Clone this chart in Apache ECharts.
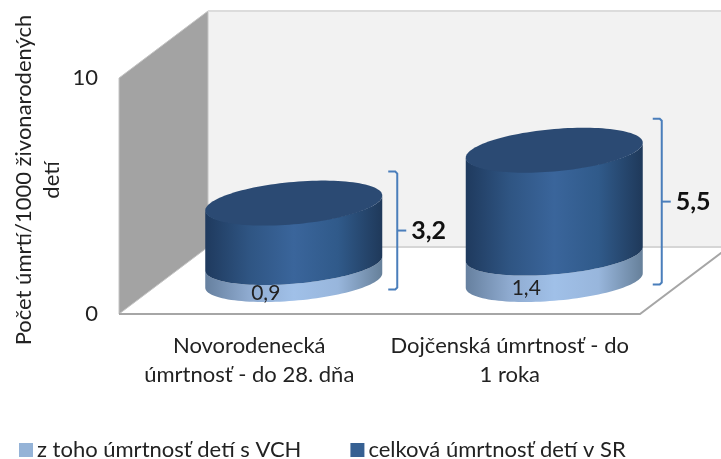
<!DOCTYPE html>
<html>
<head>
<meta charset="utf-8">
<style>
  html, body { margin: 0; padding: 0; background: #fff; }
  #chart { width: 721px; height: 459px; }
</style>
<script src="https://cdn.jsdelivr.net/npm/echarts@6/dist/echarts.min.js"></script>
</head>
<body>
<div id="chart"></div>
<script>
var categories = ['Novorodenecká\númrtnosť - do 28. dňa', 'Dojčenská úmrtnosť - do\n1 roka'];
var seriesNames = ['z toho úmrtnosť detí s VCH', 'celková úmrtnosť detí v SR'];
var vchValues = [0.9, 1.4];
var totalValues = [3.2, 5.5];
var yTicks = [0, 10];

var FONT = 'Lato';
var DEPTH_X = 89, DEPTH_Y = 67;   // hlbka podlahy
var RX = 88.5, RY = 21.5, TILT = 19.5 * Math.PI / 180;
var bracketLayout = [{ dx: 6, below: 9 }, { dx: 10, below: 4 }];

function arc(cx, cy, from, to, n, ry) {
  var pts = [];
  var b = ry || RY;
  for (var k = 0; k <= n; k++) {
    var t = (from + (to - from) * k / n) * Math.PI / 180;
    pts.push([cx + RX * Math.cos(t), cy - b * Math.sin(t + TILT)]);
  }
  return pts;
}

function sideFill(stops) {
  return new echarts.graphic.LinearGradient(0, 0, 1, 0, stops.map(function (c, i) {
    return { offset: i / (stops.length - 1), color: c };
  }));
}

function fmt(v) {
  return String(v).replace('.', ',');
}

function project(api, idx, val) {
  var p = api.coord([idx, val]);
  return [p[0] + DEPTH_X / 2, p[1] - DEPTH_Y / 2];
}

function renderWalls(params) {
  var g = params.coordSys;
  var l = g.x, r = g.x + g.width, t = g.y, b = g.y + g.height;
  return {
    type: 'group',
    children: [
      { type: 'polygon', shape: { points: [[l + DEPTH_X, t - DEPTH_Y], [r + DEPTH_X, t - DEPTH_Y], [r + DEPTH_X, b - DEPTH_Y], [l + DEPTH_X, b - DEPTH_Y]] },
        style: { fill: '#f2f2f2' } },
      { type: 'polygon', shape: { points: [[l, t], [l + DEPTH_X, t - DEPTH_Y], [l + DEPTH_X, b - DEPTH_Y], [l, b]] },
        style: { fill: '#a3a3a3', stroke: '#c4c4c4', lineWidth: 1 } },
      { type: 'polyline', shape: { points: [[l + DEPTH_X, t - DEPTH_Y], [r + DEPTH_X, t - DEPTH_Y]] },
        style: { stroke: '#dcdcdc', lineWidth: 2, fill: null } },
      { type: 'polyline', shape: { points: [[l + DEPTH_X, b - DEPTH_Y], [r + DEPTH_X, b - DEPTH_Y]] },
        style: { stroke: '#d6d6d6', lineWidth: 2, fill: null } },
      { type: 'polyline', shape: { points: [[l, b], [r, b], [r + DEPTH_X, b - DEPTH_Y]] },
        style: { stroke: '#a6a6a6', lineWidth: 2, fill: null } }
    ]
  };
}

function renderVch(params, api) {
  var i = api.value(0);
  var low = project(api, i, api.value(1));
  var high = project(api, i, api.value(2));
  var side = arc(low[0], low[1], 180, 360, 60).concat(arc(high[0], high[1], 360, 180, 60));
  return {
    type: 'group',
    children: [
      { type: 'polygon', shape: { points: side }, style: { fill: sideFill(['#66809f', '#8fabd0', '#a0c0e8', '#98b6dc', '#66809a']) } },
      { type: 'text', x: low[0] - 28, y: (low[1] + high[1]) / 2 + 21,
        style: { text: fmt(api.value(3)), font: '21px ' + FONT, fill: '#222', align: 'center', verticalAlign: 'middle' } }
    ]
  };
}

function renderTotal(params, api) {
  var i = api.value(0);
  var low = project(api, i, api.value(1));
  var high = project(api, i, api.value(2));
  var side = arc(low[0], low[1], 180, 360, 60).concat(arc(high[0], high[1], 360, 180, 60));
  var lay = bracketLayout[i];
  var bx = high[0] + RX + lay.dx;
  var top = high[1] - 31.5;
  var bottom = project(api, i, 0)[1] + lay.below;
  var mid = (top + bottom) / 2;
  var blue = { stroke: '#4a7ebb', lineWidth: 2, fill: null };
  return {
    type: 'group',
    children: [
      { type: 'polygon', shape: { points: side }, style: { fill: sideFill(['#1f3a5e', '#2f5583', '#3a659b', '#305a8a', '#1f395a']) } },
      { type: 'polygon', shape: { points: arc(high[0], high[1], 0, 360, 120, 22.5) }, style: { fill: '#2b4a73' } },
      { type: 'polyline', shape: { points: [[bx, top], [bx + 7, top], [bx + 9, top + 2], [bx + 9, bottom - 2], [bx + 7, bottom], [bx, bottom]] }, style: blue },
      { type: 'polyline', shape: { points: [[bx + 9, mid], [bx + 18, mid]] }, style: blue },
      { type: 'text', x: bx + 23, y: mid,
        style: { text: fmt(api.value(3)), font: 'bold 25px ' + FONT, fill: '#111', align: 'left', verticalAlign: 'middle' } }
    ]
  };
}

var option = {
  backgroundColor: '#fff',
  animation: false,
  textStyle: { fontFamily: FONT },
  grid: { left: 119, right: 81, top: 78, bottom: 145 },
  legend: {
    left: 14, top: 434, itemWidth: 14, itemHeight: 14, itemGap: 49, icon: 'rect',
    data: seriesNames,
    textStyle: { fontFamily: FONT, fontSize: 22, color: '#222', padding: [0, 0, 0, -1] }
  },
  xAxis: {
    type: 'category',
    data: categories,
    axisLine: { show: false },
    axisTick: { show: false },
    axisLabel: { margin: 17, fontFamily: FONT, fontSize: 22, lineHeight: 29, color: '#222', interval: 0 }
  },
  yAxis: [
    {
      type: 'value', min: yTicks[0], max: yTicks[1], interval: yTicks[1] - yTicks[0],
      axisLine: { show: false }, axisTick: { show: false }, splitLine: { show: false },
      axisLabel: { margin: 21, fontFamily: FONT, fontSize: 22, color: '#222', padding: [8, 0, 0, 0] }
    },
    // valce su v hlbke, preto ina mierka
    { type: 'value', min: 0, max: 12.5, show: false }
  ],
  graphic: [{
    type: 'text', x: 10, y: 180, rotation: Math.PI / 2, z: 10,
    style: {
      text: 'Počet úmrtí/1000 živonarodených\ndetí',
      font: '22px ' + FONT, fill: '#222', align: 'center', verticalAlign: 'top', lineHeight: 28
    }
  }],
  series: [
    {
      type: 'custom', name: 'walls', z: 1, silent: true, renderItem: renderWalls, data: [[0, 0]]
    },
    {
      type: 'custom', name: seriesNames[0], z: 2, yAxisIndex: 1, renderItem: renderVch,
      itemStyle: { color: '#95b3d7' },
      encode: { x: 0, y: [1, 2] },
      data: vchValues.map(function (v, i) { return [i, 0, v, v]; })
    },
    {
      type: 'custom', name: seriesNames[1], z: 3, yAxisIndex: 1, renderItem: renderTotal,
      itemStyle: { color: '#366092' },
      encode: { x: 0, y: [1, 2] },
      data: totalValues.map(function (v, i) { return [i, vchValues[i], vchValues[i] + v, v]; })
    }
  ]
};

var myChart = echarts.init(document.getElementById('chart'));
myChart.setOption(option);
</script>
</body>
</html>
